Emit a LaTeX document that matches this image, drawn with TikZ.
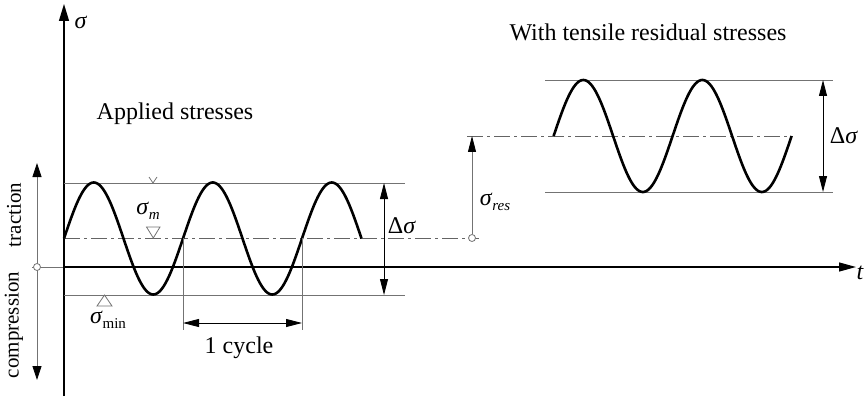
\documentclass[tikz,border=0pt]{standalone}
\usepackage{fontspec}
\setmainfont{Liberation Serif}
\usetikzlibrary{arrows.meta}
\definecolor{thingray}{RGB}{115,115,115}
\definecolor{cgray}{RGB}{100,100,100}
\newcommand\mysub[1]{\raisebox{-5pt}{\fontsize{15}{15}\selectfont #1}}
\begin{document}
\begin{tikzpicture}[x=1pt,y=-1pt,
  thinln/.style={draw=thingray,line width=0.8pt},
  axisln/.style={draw=black,line width=1.3pt},
  waveln/.style={draw=black,line width=2.6pt,line join=round},
  centerln/.style={draw=cgray,line width=0.8pt,dash pattern=on 16pt off 4pt on 3pt off 4pt},
  tipA/.tip={Triangle[length=16pt,width=8pt,color=black,fill=black]},
  dimln/.style={draw=black,line width=0.9pt,tipA-tipA},
  lbl/.style={inner sep=0pt,font=\fontsize{24}{28}\selectfont},
  lblr/.style={inner sep=0pt,font=\fontsize{21}{24}\selectfont,rotate=90},
  ring/.style={circle,draw=thingray,fill=white,inner sep=0pt,minimum size=7pt,line width=0.8pt}]
\useasboundingbox (0,0) rectangle (866,398);

% axes
\coordinate (sb) at (64,396);
\coordinate (st) at (64,4);
\coordinate (o) at (64,267);
\coordinate (tt) at (856,267);
\coordinate (ol) at (32,267);
\draw[thinln] (ol) -- (o);
\draw[axisln,-{Triangle[length=17pt,width=10pt]}] (sb) -- (st);
\draw[axisln,-{Triangle[length=17pt,width=9pt]}] (o) -- (tt);
\node[lbl] (sig) at (81,22) {\textit{σ}};
\node[lbl,anchor=west] (tlab) at (856.5,273) {\textit{t}};

% traction / compression
\coordinate (ta) at (37,163);
\coordinate (tb) at (37,380);
\draw[thinln,{Triangle[length=14pt,width=9pt,color=black,fill=black]}-{Triangle[length=14pt,width=9pt,color=black,fill=black]}] (ta) -- (tb);
\node[ring] (oc) at (37,267) {};
\node[lblr] (trac) at (14,215) {traction};
\node[lblr] (comp) at (14,325) {compression};

% left group
\coordinate (mx0) at (64,183); \coordinate (mx1) at (405,183);
\coordinate (mn0) at (64,295); \coordinate (mn1) at (405,295);
\coordinate (me0) at (64,238); \coordinate (me1) at (479,238);
\draw[thinln] (mx0) -- (mx1);
\draw[thinln] (mn0) -- (mn1);
\draw[centerln] (me0) -- (me1);
\draw[waveln] plot[domain=64:361.5,samples=240,smooth] (\x,{238.5-56*sin(3.02521*(\x-64))});

% cycle dimension
\coordinate (cy0) at (183,238); \coordinate (cy0b) at (183,330);
\coordinate (cy1) at (302,238); \coordinate (cy1b) at (302,330);
\coordinate (cd0) at (183,323); \coordinate (cd1) at (302,323);
\draw[thinln] (cy0) -- (cy0b);
\draw[thinln] (cy1) -- (cy1b);
\draw[dimln] (cd0) -- (cd1);
\node[lbl] (cyc) at (239,348) {1 cycle};

% delta sigma left
\coordinate (dl0) at (384,183); \coordinate (dl1) at (384,295);
\draw[dimln] (dl0) -- (dl1);
\node[lbl] (dsl) at (402,226) {Δ\textit{σ}};

% markers
\coordinate (v0) at (149,177); \coordinate (v1) at (153,183); \coordinate (v2) at (157,177);
\draw[thinln] (v0) -- (v1) -- (v2);
\coordinate (m0) at (146.5,227); \coordinate (m1) at (160,227); \coordinate (m2) at (153.3,238);
\draw[thinln,fill=white] (m0) -- (m1) -- (m2) -- cycle;
\node[lbl] (sm) at (148,211) {\textit{σ}\mysub{\textit{m}}};
\coordinate (n0) at (97,306); \coordinate (n1) at (112,306); \coordinate (n2) at (104.5,295);
\draw[thinln,fill=white] (n0) -- (n1) -- (n2) -- cycle;
\node[lbl] (smin) at (108,320) {\textit{σ}\mysub{min}};

\node[lbl] (app) at (175,114) {Applied stresses};

% right group
\coordinate (rx0) at (545,80); \coordinate (rx1) at (833,80);
\coordinate (rn0) at (545,192); \coordinate (rn1) at (833,192);
\coordinate (rm0) at (467,136); \coordinate (rm1) at (793,136);
\draw[thinln] (rx0) -- (rx1);
\draw[thinln] (rn0) -- (rn1);
\draw[centerln] (rm0) -- (rm1);
\draw[waveln] plot[domain=553.6:791.6,samples=200,smooth] (\x,{136-56*sin(3.02521*(\x-553.6))});
\coordinate (rs1) at (472,136);
\node[ring] (rc) at (472,238) {};
\draw[thinln,-{Triangle[length=16pt,width=8pt,color=black,fill=black]}] (rc) -- (rs1);
\node[lbl] (sres) at (495,202) {\textit{σ}\mysub{\textit{res}}};
\coordinate (dr0) at (823,80); \coordinate (dr1) at (823,192);
\draw[dimln] (dr0) -- (dr1);
\node[lbl] (dsr) at (844,136) {Δ\textit{σ}};
\node[lbl] (wt) at (648,32) {With tensile residual stresses};
\end{tikzpicture}
\end{document}
